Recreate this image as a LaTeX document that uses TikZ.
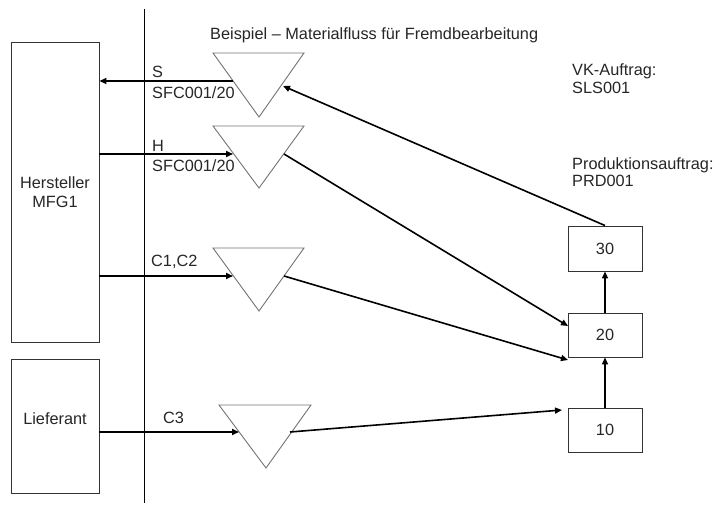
\documentclass[tikz,border=0pt]{standalone}
\usepackage{fontspec}
\setmainfont{Liberation Sans}
\usetikzlibrary{arrows.meta}
\begin{document}
\begin{tikzpicture}[x=1pt,y=-1pt,
  every node/.style={font=\fontsize{16.3}{18.5}\selectfont, inner sep=0pt, text=black!85},
  box/.style={draw=black!80, line width=0.9pt, rectangle},
  tri/.style={draw=black!55, line width=0.9pt},
  arr/.style={line width=1.6pt, -{Triangle[length=7pt,width=6pt]}},
  lbl/.style={anchor=base west}]
\useasboundingbox (0,0) rectangle (720,505);
% vertical separator
\coordinate (vtop) at (144,9);
\coordinate (vbot) at (144,503);
\draw[line width=0.9pt] (vtop) -- (vbot);
% left boxes
\node[box, minimum width=88, minimum height=300, align=center] (herst) at (55,192) {Hersteller\\MFG1};
\node[box, minimum width=88, minimum height=134] (lief) at (55,426) {};
\node[anchor=base] (lieftxt) at (55,424) {Lieferant};
% right boxes
\node[box, minimum width=74, minimum height=45] (b30) at (605,248.5) {30};
\node[box, minimum width=74, minimum height=44] (b20) at (605,335) {20};
\node[box, minimum width=74, minimum height=44] (b10) at (605,430) {10};
% triangles
\draw[tri] (213,53) -- (304,53) -- (259,117) -- cycle;
\draw[tri] (213,126) -- (304,126) -- (259,188) -- cycle;
\draw[tri] (213,248) -- (304,248) -- (259,311) -- cycle;
\draw[tri] (219,405) -- (311,405) -- (266,468) -- cycle;
% attachment points
\coordinate (t1L) at (233,81);
\coordinate (t1R) at (283,86);
\coordinate (t2L) at (233,154);
\coordinate (t2R) at (284,154);
\coordinate (t3L) at (233,276);
\coordinate (t3R) at (284,276);
\coordinate (t4L) at (239,432);
\coordinate (t4R) at (290,432);
\coordinate (b20a) at (568,326);
\coordinate (b20b) at (568,360);
\coordinate (b10a) at (562,410);
% arrows left
\draw[arr] (t1L) -- (t1L -| herst.east);
\draw[arr] (t2L -| herst.east) -- (t2L);
\draw[arr] (t3L -| herst.east) -- (t3L);
\draw[arr] (t4L -| lief.east) -- (t4L);
% arrows right
\draw[arr] (b30.north) -- (t1R);
\draw[arr] (t2R) -- (b20a);
\draw[arr] (t3R) -- (b20b);
\draw[arr] (t4R) -- (b10a);
\draw[arr] (b10.north) -- (b20.south);
\draw[arr] (b20.north) -- (b30.south);
% labels
\node[lbl] (ls) at (152,78) {S};
\node[lbl] (ls2) at (152,99) {SFC001/20};
\node[lbl] (lh) at (152,152) {H};
\node[lbl] (lh2) at (152,172) {SFC001/20};
\node[lbl] (lc) at (151,266) {C1,C2};
\node[lbl] (lc3) at (163,423) {C3};
\node[lbl] (title) at (210,40) {Beispiel – Materialfluss für Fremdbearbeitung};
\node[lbl] (vk1) at (572,76) {VK-Auftrag:};
\node[lbl] (vk2) at (572,94) {SLS001};
\node[lbl] (pa1) at (572,170) {Produktionsauftrag:};
\node[lbl] (pa2) at (572,187) {PRD001};
\end{tikzpicture}
\end{document}
